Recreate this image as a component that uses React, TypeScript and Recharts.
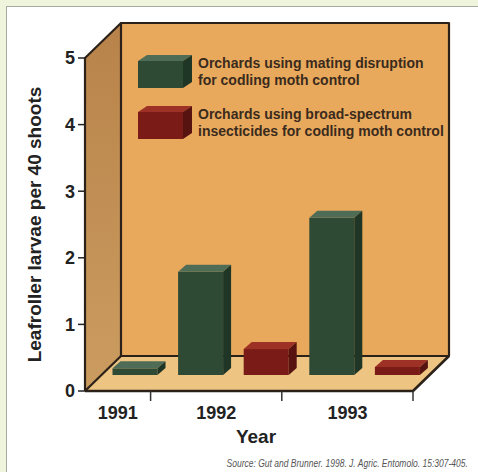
import { BarChart, Bar, XAxis, YAxis, Legend, ReferenceArea } from "recharts";

// values (leafroller larvae per 40 shoots)
const years = ["1991", "1992", "1993"];
const mating = [0.1, 1.55, 2.36];
const broad: (number | null)[] = [null, 0.39, 0.12];
const yTicks = [0, 1, 2, 3, 4, 5];

const series = [
  {
    key: "mating",
    values: mating,
    name: "Orchards using mating disruption\nfor codling moth control",
    front: "#2e4a35",
    top: "#4f6d56",
    side: "#1f3526",
  },
  {
    key: "broad",
    values: broad,
    name: "Orchards using broad-spectrum\ninsecticides for codling moth control",
    front: "#7b1b18",
    top: "#9e3125",
    side: "#561310",
  },
];

// one slot per bar that exists, so 1991 takes half the room of the other years
type Row = { slot: string; year: string; [k: string]: number | string };
const rows: Row[] = [];
years.forEach((year, i) => {
  series.forEach((s) => {
    const v = s.values[i];
    if (v != null) rows.push({ slot: `${year}-${s.key}`, year, [s.key]: v });
  });
});

const W = 478;
const H = 472;
const PLOT = { left: 85, top: 58, right: 413, bottom: 391 };
const Y_AXIS_W = 48;
const X_AXIS_H = 56;
const SLOT_W = (PLOT.right - PLOT.left) / rows.length;
const WALL = { x: 36, y: 35 };
const SHIFT = { x: 17, y: 16 };
const BAR_D = { x: 8, y: 7 };
const INK = "#2b2118";
const FONT = "'Liberation Sans', Arial, Helvetica, sans-serif";

const Frame = (props: any) => {
  const { x, y, width, height } = props;
  const L = x, R = x + width, T = y, B = y + height;
  const dx = WALL.x, dy = WALL.y;
  return (
    <g>
      <defs>
        <linearGradient id="leftWall" x1="0" y1="0" x2="0" y2="1">
          <stop offset="0%" stopColor="#b8834a" />
          <stop offset="100%" stopColor="#cb9c60" />
        </linearGradient>
      </defs>
      <rect x={L + dx} y={T - dy} width={width} height={height} fill="#e9a95c" />
      <polygon points={`${L},${T} ${L + dx},${T - dy} ${L + dx},${B - dy} ${L},${B}`} fill="url(#leftWall)" />
      <polygon points={`${L},${B} ${R},${B} ${R + dx},${B - dy} ${L + dx},${B - dy}`} fill="#edc482" />
      <g stroke={INK} strokeWidth={2.2} fill="none" strokeLinejoin="round">
        <polyline points={`${L + dx},${B - dy} ${L + dx},${T - dy} ${R + dx},${T - dy} ${R + dx},${B - dy} ${L + dx},${B - dy}`} />
        <polyline points={`${L},${B} ${L},${T} ${L + dx},${T - dy}`} />
        <line x1={L} y1={B} x2={L + dx} y2={B - dy} />
        <polyline points={`${L},${B} ${R},${B} ${R + dx},${B - dy}`} strokeWidth={2.6} />
      </g>
    </g>
  );
};

const makeBox = (s: (typeof series)[number]) => (props: any) => {
  const { x, y, width, height, payload } = props;
  if (payload[s.key] == null || !(height > 0)) return <g />;
  const fx = x + SHIFT.x;
  const fy = y - SHIFT.y;
  const r = fx + width;
  const b = fy + height;
  return (
    <g>
      <rect x={fx} y={fy} width={width} height={height} fill={s.front} />
      <polygon points={`${fx},${fy} ${fx + BAR_D.x},${fy - BAR_D.y} ${r + BAR_D.x},${fy - BAR_D.y} ${r},${fy}`} fill={s.top} />
      <polygon points={`${r},${fy} ${r + BAR_D.x},${fy - BAR_D.y} ${r + BAR_D.x},${b - BAR_D.y} ${r},${b}`} fill={s.side} />
    </g>
  );
};

const YearTick = (props: any) => {
  const { x, y, payload } = props;
  const row = rows.find((r) => r.slot === payload.value);
  if (!row) return <g />;
  const group = rows.filter((r) => r.year === row.year);
  const first = group[0] === row;
  const last = group[group.length - 1] === row;
  return (
    <g>
      {first && (
        <text
          x={x + ((group.length - 1) * SLOT_W) / 2}
          y={y + 28}
          textAnchor="middle"
          fontFamily={FONT}
          fontWeight={700}
          fontSize={18}
          fill="#222"
        >
          {row.year}
        </text>
      )}
      {last && <line x1={x + SLOT_W / 2} x2={x + SLOT_W / 2} y1={y} y2={y + 10} stroke="#333" strokeWidth={1.5} />}
    </g>
  );
};

const LegendBoxes = (props: any) => {
  const { payload = [] } = props;
  // stacked bars hand the legend over in reverse, keep the series order instead
  const entries = series
    .map((s) => ({ s, entry: payload.find((p: any) => p.dataKey === s.key) }))
    .filter((e) => e.entry);
  return (
    <div style={{ fontFamily: FONT }}>
      {entries.map(({ s, entry }) => (
        <div key={s.key} style={{ display: "flex", alignItems: "flex-start", marginBottom: 17 }}>
          <svg width={54} height={34} style={{ flex: "none" }}>
            <polygon points="0,6 9,0 54,0 45,6" fill={s.top} />
            <rect x={0} y={6} width={45} height={27} fill={s.front} />
            <polygon points="45,6 54,0 54,27 45,33" fill={s.side} />
          </svg>
          <span
            style={{
              marginLeft: 6,
              whiteSpace: "pre-line",
              fontWeight: 700,
              fontSize: 14,
              lineHeight: "17px",
              color: "#3a2b1d",
            }}
          >
            {entry.value}
          </span>
        </div>
      ))}
    </div>
  );
};

const YTitle = (props: any) => {
  const { viewBox } = props;
  const cx = viewBox.x - 3;
  const cy = viewBox.y + viewBox.height / 2;
  return (
    <text
      x={cx}
      y={cy}
      transform={`rotate(-90 ${cx} ${cy})`}
      textAnchor="middle"
      dominantBaseline="central"
      fontFamily={FONT}
      fontWeight={700}
      fontSize={19}
      fill="#222"
    >
      Leafroller larvae per 40 shoots
    </text>
  );
};

export default function App() {
  return (
    <div style={{ position: "absolute", left: 0, top: 0, width: W, height: H, background: "#eef5dc", overflow: "hidden" }}>
      <div
        style={{
          position: "absolute",
          left: 6,
          top: 6,
          right: 0,
          bottom: 0,
          background: "#fff",
          borderLeft: "1.5px solid #a3ac9c",
          borderTop: "1.5px solid #a3ac9c",
        }}
      />
      <div style={{ position: "absolute", left: 0, top: 0 }}>
        <BarChart
          width={W}
          height={H}
          data={rows}
          barCategoryGap="16%"
          margin={{
            top: PLOT.top,
            right: W - PLOT.right,
            bottom: H - PLOT.bottom - X_AXIS_H,
            left: PLOT.left - Y_AXIS_W,
          }}
        >
          <ReferenceArea y1={0} y2={5} shape={Frame} ifOverflow="visible" />
          <XAxis
            dataKey="slot"
            height={X_AXIS_H}
            axisLine={false}
            tickLine={false}
            tickSize={0}
            tickMargin={0}
            interval={0}
            tick={YearTick}
            label={{
              value: "Year",
              position: "insideBottom",
              offset: 4,
              dx: 7,
              style: { fontFamily: FONT, fontWeight: 700, fontSize: 19, fill: "#222" },
            }}
          />
          <YAxis
            type="number"
            domain={[0, 5]}
            ticks={yTicks}
            width={Y_AXIS_W}
            axisLine={false}
            tickLine={{ stroke: "#222", strokeWidth: 1.5 }}
            tickSize={7}
            tickMargin={3}
            tick={{ fontFamily: FONT, fontWeight: 700, fontSize: 18, fill: "#222" }}
            label={<YTitle />}
          />
          <Legend
            layout="vertical"
            align="center"
            verticalAlign="middle"
            content={<LegendBoxes />}
            wrapperStyle={{ left: 138, top: 55, width: 330, height: "auto" }}
          />
          {series.map((s) => (
            <Bar
              key={s.key}
              dataKey={s.key}
              name={s.name}
              stackId="years"
              fill={s.front}
              shape={makeBox(s)}
              isAnimationActive={false}
            />
          ))}
        </BarChart>
      </div>
      <div
        style={{
          position: "absolute",
          right: 10,
          top: 458,
          fontFamily: FONT,
          fontStyle: "italic",
          fontSize: 10,
          lineHeight: "12px",
          color: "#555",
          whiteSpace: "nowrap",
          transform: "scaleX(0.85)",
          transformOrigin: "right center",
        }}
      >
        Source: Gut and Brunner. 1998. J. Agric. Entomolo. 15:307-405.
      </div>
    </div>
  );
}
